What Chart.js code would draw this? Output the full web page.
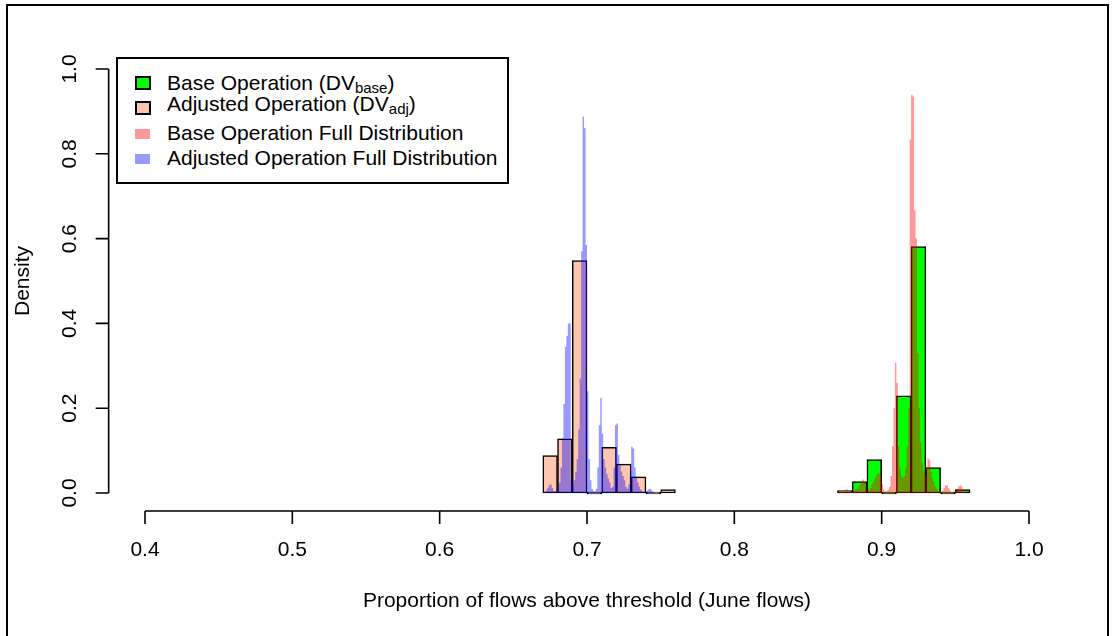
<!DOCTYPE html>
<html>
<head>
<meta charset="utf-8">
<script src="https://cdn.jsdelivr.net/npm/chart.js@4.4.1/dist/chart.umd.min.js"></script>
<style>
  html, body { margin: 0; padding: 0; background: #fff; }
  #wrap { position: relative; width: 1114px; height: 636px; overflow: hidden; background: #fff; }
  #frame { position: absolute; left: 6px; top: 4px; width: 1103px; height: 700px; border: 2px solid #000; box-sizing: border-box; }
  canvas { position: absolute; left: 0; top: 0; }
  #legend { position: absolute; left: 116px; top: 57px; width: 393px; height: 127px; border: 2px solid #000; box-sizing: border-box; background: #fff; }
  .sw { position: absolute; box-sizing: border-box; }
  .lt { position: absolute; font-family: "Liberation Sans", Arial, sans-serif; font-size: 21px; line-height: 20px; color: #000; white-space: nowrap; }
  .lt sub { font-size: 15px; vertical-align: baseline; position: relative; top: 3px; }
</style>
</head>
<body>
<div id="wrap">
  <canvas id="c" width="1114" height="636"></canvas>
  <div id="frame"></div>
  <div id="legend"></div>
</div>
<script>
// Histogram of the decision variable (bin width 0.01), adjusted operation
const dvBinWidth = 0.01;
const adjDVStart = 0.67;
const adjDV = [0.088, 0.128, 0.548, 0, 0.108, 0.068, 0.038, 0, 0.008];

// Histogram of the decision variable (bin width 0.01), base operation
const baseDVStart = 0.87;
const baseDV = [0.006, 0.027, 0.079, 0, 0.229, 0.581, 0.060, 0, 0.008];

// Full distributions (bin width 0.001)
const fullBinWidth = 0.001;
const adjFullStart = 0.670;
const adjFull = [
  0, 0, 0.002, 0.006, 0.012, 0.018, 0.020, 0.012, 0.005, 0.004,
  0.005, 0.010, 0.025, 0.060, 0.130, 0.210, 0.345, 0.370, 0.400, 0.400,
  0.030, 0.020, 0.030, 0.050, 0.080, 0.150, 0.270, 0.570, 0.888, 0.861,
  0.585, 0.240, 0.080, 0.030, 0.010, 0.005, 0.004, 0.010, 0.060, 0.160,
  0.224, 0.140, 0.080, 0.060, 0.045, 0.035, 0.025, 0.012, 0.015, 0.060,
  0.160, 0.164, 0.090, 0.065, 0.050, 0.040, 0.030, 0.015, 0.010, 0.020,
  0.050, 0.109, 0.105, 0.060, 0.040, 0.025, 0.015, 0.008, 0.004, 0.002,
  0.002, 0.004, 0.008, 0.010, 0.008, 0.004, 0.002, 0, 0, 0
];
const baseFullStart = 0.870;
const baseFull = [
  0.002, 0.002, 0.003, 0.004, 0.005, 0.006, 0.008, 0.009, 0.006, 0.004,
  0.003, 0.004, 0.006, 0.008, 0.010, 0.015, 0.020, 0.028, 0.032, 0.025,
  0.010, 0.006, 0.008, 0.012, 0.020, 0.028, 0.035, 0.042, 0.047, 0.045,
  0.038, 0.020, 0.008, 0.004, 0.004, 0.008, 0.015, 0.040, 0.110, 0.200,
  0.307, 0.260, 0.110, 0.060, 0.040, 0.035, 0.040, 0.060, 0.110, 0.200,
  0.834, 0.939, 0.935, 0.667, 0.600, 0.330, 0.200, 0.120, 0.070, 0.050,
  0.040, 0.060, 0.082, 0.078, 0.050, 0.035, 0.025, 0.015, 0.010, 0.005,
  0.003, 0.003, 0.006, 0.012, 0.017, 0.019, 0.012, 0.006, 0.002, 0.002,
  0.003, 0.005, 0.010, 0.016, 0.019, 0.014, 0.008, 0.003, 0, 0
];

// Axis ticks
const xTickValues = [0.4, 0.5, 0.6, 0.7, 0.8, 0.9, 1.0];
const xTickLabels = ['0.4', '0.5', '0.6', '0.7', '0.8', '0.9', '1.0'];
const yTickValues = [0, 0.2, 0.4, 0.6, 0.8, 1.0];
const yTickLabels = ['0.0', '0.2', '0.4', '0.6', '0.8', '1.0'];

const xTitle = 'Proportion of flows above threshold (June flows)';
const yTitle = 'Density';

// Legend entries: [text, subscript, closing text]
const legendEntries = [
  ['Base Operation (DV', 'base', ')'],
  ['Adjusted Operation (DV', 'adj', ')'],
  ['Base Operation Full Distribution', '', ''],
  ['Adjusted Operation Full Distribution', '', '']
];

const COL_GREEN = '#00ff00';
const COL_PEACH = 'rgb(255,198,175)';
const COL_RED_T = 'rgba(255,0,0,0.4)';
const COL_BLUE_T = 'rgba(0,0,255,0.4)';

// Bars centred in each 0.01 bin
function dvPoints(start, vals) {
  return vals.map((v, i) => ({ x: start + (i + 0.5) * dvBinWidth, y: v }));
}
// Step outline over bin edges, closed at the last edge
function stepPoints(start, vals) {
  const pts = vals.map((v, i) => ({ x: start + i * fullBinWidth, y: v }));
  pts.push({ x: start + vals.length * fullBinWidth, y: 0 });
  return pts;
}

const FONT = '"Liberation Sans", Arial, sans-serif';
const TICK = 13;

const rAxes = {
  id: 'rAxes',
  afterDraw(chart) {
    const { ctx, chartArea: a, scales: { x, y } } = chart;
    ctx.save();
    ctx.strokeStyle = '#000';
    ctx.fillStyle = '#000';
    ctx.lineWidth = 1.6;

    // bottom axis
    const yb = a.bottom + 1;
    ctx.beginPath();
    ctx.moveTo(x.getPixelForValue(xTickValues[0]), yb);
    ctx.lineTo(x.getPixelForValue(xTickValues[xTickValues.length - 1]), yb);
    xTickValues.forEach(v => {
      const p = x.getPixelForValue(v);
      ctx.moveTo(p, yb);
      ctx.lineTo(p, yb + TICK);
    });
    ctx.stroke();
    ctx.font = '21px ' + FONT;
    ctx.textAlign = 'center';
    ctx.textBaseline = 'alphabetic';
    xTickValues.forEach((v, i) => ctx.fillText(xTickLabels[i], x.getPixelForValue(v), 556));
    ctx.fillText(xTitle, (a.left + a.right) / 2, 607);

    // left axis
    const xl = a.left - 1;
    ctx.beginPath();
    ctx.moveTo(xl, y.getPixelForValue(yTickValues[0]));
    ctx.lineTo(xl, y.getPixelForValue(yTickValues[yTickValues.length - 1]));
    yTickValues.forEach(v => {
      const p = y.getPixelForValue(v);
      ctx.moveTo(xl, p);
      ctx.lineTo(xl - TICK, p);
    });
    ctx.stroke();
    yTickValues.forEach((v, i) => {
      ctx.save();
      ctx.translate(76, y.getPixelForValue(v));
      ctx.rotate(-Math.PI / 2);
      ctx.fillText(yTickLabels[i], 0, 0);
      ctx.restore();
    });
    ctx.save();
    ctx.translate(29, (a.top + a.bottom) / 2);
    ctx.rotate(-Math.PI / 2);
    ctx.fillText(yTitle, 0, 0);
    ctx.restore();
    ctx.restore();
  }
};

new Chart(document.getElementById('c'), {
  type: 'bar',
  data: {
    datasets: [
      {
        type: 'line', label: 'Base Operation Full Distribution', order: 0,
        data: stepPoints(baseFullStart, baseFull),
        stepped: 'after', fill: 'origin', backgroundColor: COL_RED_T,
        borderColor: 'transparent', borderWidth: 0, pointRadius: 0
      },
      {
        type: 'line', label: 'Adjusted Operation Full Distribution', order: 0,
        data: stepPoints(adjFullStart, adjFull),
        stepped: 'after', fill: 'origin', backgroundColor: COL_BLUE_T,
        borderColor: 'transparent', borderWidth: 0, pointRadius: 0
      },
      {
        label: 'Base Operation', order: 1,
        data: dvPoints(baseDVStart, baseDV),
        backgroundColor: COL_GREEN, borderColor: '#000', borderWidth: 1.5,
        borderSkipped: false, grouped: false, minBarLength: 2,
        barPercentage: 1, categoryPercentage: 1
      },
      {
        label: 'Adjusted Operation', order: 1,
        data: dvPoints(adjDVStart, adjDV),
        backgroundColor: COL_PEACH, borderColor: '#000', borderWidth: 1.5,
        borderSkipped: false, grouped: false, minBarLength: 2,
        barPercentage: 1, categoryPercentage: 1
      }
    ]
  },
  options: {
    responsive: false,
    devicePixelRatio: 1,
    animation: false,
    events: [],
    layout: { padding: { left: 109.64, right: 49.64, top: 52.04, bottom: 126.04 } },
    plugins: { legend: { display: false }, title: { display: false }, tooltip: { enabled: false } },
    scales: {
      x: { type: 'linear', display: false, offset: false, min: 0.376, max: 1.024, ticks: { stepSize: 0.1 } },
      y: { type: 'linear', display: false, min: -0.04, max: 1.04 }
    }
  },
  plugins: [rAxes]
});

// Legend box
const swatches = [
  { left: 135, top: 76, w: 16, h: 14, bg: COL_GREEN, border: true },
  { left: 135, top: 101, w: 16, h: 14, bg: COL_PEACH, border: true },
  { left: 135, top: 129, w: 15, h: 10, bg: COL_RED_T, border: false },
  { left: 135, top: 154, w: 15, h: 10, bg: COL_BLUE_T, border: false }
];
const textTops = [73, 94, 123, 148];
const wrap = document.getElementById('wrap');
legendEntries.forEach((e, i) => {
  const s = swatches[i];
  const sw = document.createElement('div');
  sw.className = 'sw';
  sw.style.left = s.left + 'px';
  sw.style.top = s.top + 'px';
  sw.style.width = s.w + 'px';
  sw.style.height = s.h + 'px';
  sw.style.background = s.bg;
  if (s.border) sw.style.border = '2px solid #000';
  wrap.appendChild(sw);
  const t = document.createElement('div');
  t.className = 'lt';
  t.style.left = '167px';
  t.style.top = textTops[i] + 'px';
  t.appendChild(document.createTextNode(e[0]));
  if (e[1]) {
    const sub = document.createElement('sub');
    sub.textContent = e[1];
    t.appendChild(sub);
    t.appendChild(document.createTextNode(e[2]));
  }
  wrap.appendChild(t);
});
</script>
</body>
</html>
